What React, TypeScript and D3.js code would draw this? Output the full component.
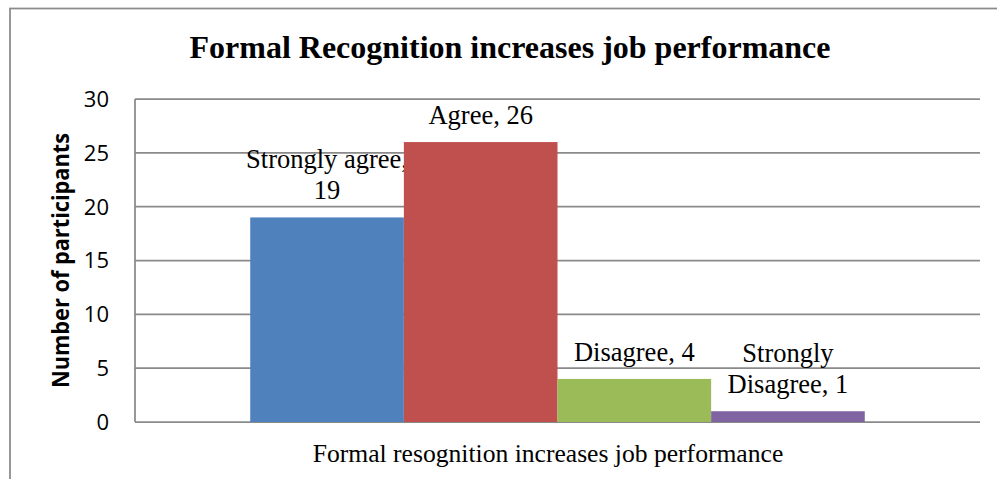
import React from "react";
import * as d3 from "d3";

const chartTitle = "Formal Recognition increases job performance";
const categories = ["Formal resognition increases job performance"];
const seriesNames = ["Strongly agree", "Agree", "Disagree", "Strongly Disagree"];
const seriesValues = [19, 26, 4, 1];
const seriesColors = ["#4F81BD", "#C0504D", "#9BBB59", "#8064A2"];
const labelLines = [["Strongly agree,", "19"], ["Agree, 26"], ["Disagree, 4"], ["Strongly", "Disagree, 1"]];
const yTicks = [0, 5, 10, 15, 20, 25, 30];
const yAxisTitle = "Number of participants";

const W = 997;
const H = 479;
const plot = { left: 135, right: 980, top: 99, bottom: 422 };
const serif = "'Liberation Serif', 'Times New Roman', serif";
const sans = "'Open Sans', 'Noto Sans', sans-serif";
const gridColor = "#8a8a8a";

export default function App() {
  const xOuter = d3.scaleBand<string>().domain(categories).range([plot.left, plot.right]).padding(0);
  const xInner = d3
    .scaleBand<string>()
    .domain(seriesNames)
    .range([0, xOuter.bandwidth()])
    .paddingInner(0)
    .paddingOuter(0.75);
  const y = d3.scaleLinear().domain([0, 30]).range([plot.bottom, plot.top]);
  const cat = categories[0];
  const x0 = xOuter(cat) as number;

  return (
    <svg width={W} height={H} style={{ position: "absolute", left: 0, top: 0, background: "#fff" }}>
      <rect x={10} y={8.5} width={1100} height={600} fill="#fff" stroke={gridColor} strokeWidth={1.75} />
      <text x={510} y={58} textAnchor="middle" fontFamily={serif} fontWeight="bold" fontSize={32} fill="#000">
        {chartTitle}
      </text>
      {yTicks.map((t) => (
        <g key={t}>
          <line x1={plot.left} x2={plot.right} y1={y(t)} y2={y(t)} stroke={gridColor} strokeWidth={1.75} />
          <text x={109} y={y(t)} dy="0.36em" textAnchor="end" fontFamily={sans} fontSize={22} fill="#000">
            {t}
          </text>
        </g>
      ))}
      <line x1={plot.left} x2={plot.left} y1={plot.top} y2={plot.bottom} stroke={gridColor} strokeWidth={1.75} />
      {seriesNames.map((s, i) => {
        const bx = x0 + (xInner(s) as number);
        const bw = xInner.bandwidth();
        const top = y(seriesValues[i]);
        const lines = labelLines[i];
        return (
          <g key={s}>
            <rect x={bx} y={top} width={bw} height={y(0) - top} fill={seriesColors[i]} />
            {lines.map((ln, j) => (
              <text
                key={j}
                x={bx + bw / 2}
                y={top - 18 - (lines.length - 1 - j) * 31}
                textAnchor="middle"
                fontFamily={serif}
                fontSize={26.5}
                fill="#000"
              >
                {ln}
              </text>
            ))}
          </g>
        );
      })}
      <text x={548} y={461.5} textAnchor="middle" fontFamily={serif} fontSize={25.6} fill="#000">
        {cat}
      </text>
      <text
        transform={`translate(69, 260.5) rotate(-90)`}
        textAnchor="middle"
        fontFamily={sans}
        fontWeight="bold"
        fontSize={23}
        textLength={255}
        lengthAdjust="spacingAndGlyphs"
        fill="#000"
      >
        {yAxisTitle}
      </text>
    </svg>
  );
}
